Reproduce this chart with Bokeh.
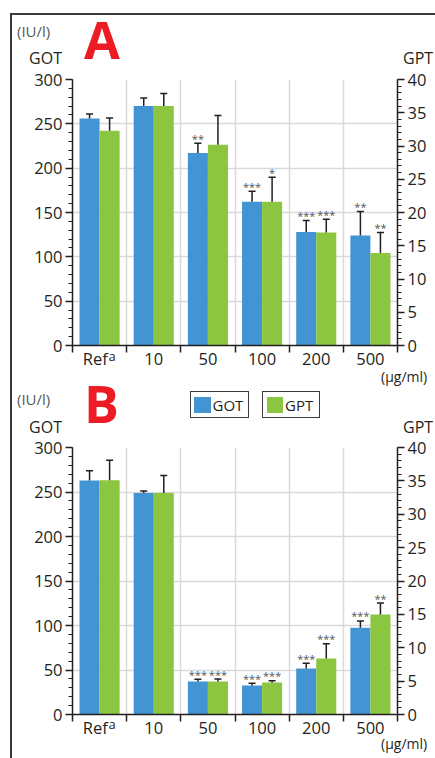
from bokeh.plotting import figure
from bokeh.models import (Range1d, LinearAxis, FixedTicker, ColumnDataSource, Grid,
                          CustomJSTickFormatter, Div)
from bokeh.layouts import column
from bokeh.core.properties import value
from bokeh.embed import file_html
from bokeh.resources import INLINE

# ---------------- data ----------------
categories = ["Ref", "10", "50", "100", "200", "500"]
category_marks = ["a", "", "", "", "", ""]          # superscript footnote marks
got_ticks = [0, 50, 100, 150, 200, 250, 300]
gpt_ticks = [0, 5, 10, 15, 20, 25, 30, 35, 40]
series_names = ["GOT", "GPT"]

A_got = [256, 270, 217, 162, 128, 124]
A_got_sd = [5, 9, 11, 12, 13, 27]
A_gpt = [32.3, 36.0, 30.2, 21.6, 17.0, 13.9]
A_gpt_sd = [1.9, 1.9, 4.4, 3.7, 2.0, 3.1]
A_got_sig = ["", "", "**", "***", "***", "**"]
A_gpt_sig = ["", "", "", "*", "***", "**"]

B_got = [263, 249, 37, 32.5, 51.6, 97.6]
B_got_sd = [11, 2, 2.6, 2.5, 6, 7.5]
B_gpt = [35.1, 33.2, 4.95, 4.8, 8.4, 15.0]
B_gpt_sd = [3.0, 2.6, 0.35, 0.25, 2.2, 1.7]
B_got_sig = ["", "", "***", "***", "***", "***"]
B_gpt_sig = ["", "", "***", "***", "***", "**"]

# ---------------- style ----------------
FONT = "Open Sans"
BLUE = "#4394d2"
GREEN = "#8cc540"
INK = "#231f20"
GRID = "#d9d9d9"
RED = "#ed1c24"
W = 435


def make_panel(got, got_sd, gpt, gpt_sd, got_sig, gpt_sig, height, top, bottom):
    p = figure(width=W, height=height, x_range=Range1d(0, 6), y_range=Range1d(0, 300),
               output_backend="svg", toolbar_location=None,
               x_axis_type=None, y_axis_type=None,
               min_border_left=72, min_border_right=38,
               min_border_top=top, min_border_bottom=bottom)
    p.extra_y_ranges = {"gpt": Range1d(0, 40)}
    p.outline_line_color = None
    p.background_fill_color = "white"
    p.border_fill_color = "white"

    p.add_layout(Grid(dimension=0, ticker=FixedTicker(ticks=[1, 2, 3, 4, 5]),
                      grid_line_color=GRID, grid_line_width=1.5))
    p.add_layout(Grid(dimension=1, ticker=FixedTicker(ticks=got_ticks[1:]),
                      grid_line_color=GRID, grid_line_width=1.5))

    n = len(categories)
    xb = [i + 0.5 - 0.185 for i in range(n)]
    xg = [i + 0.5 + 0.185 for i in range(n)]
    got_top = [v + s for v, s in zip(got, got_sd)]
    gpt_top = [v + s for v, s in zip(gpt, gpt_sd)]
    src_b = ColumnDataSource(dict(x=xb, v=got, t=got_top, sig=got_sig,
                                  x0=[x - 0.065 for x in xb], x1=[x + 0.065 for x in xb]))
    src_g = ColumnDataSource(dict(x=xg, v=gpt, t=gpt_top, sig=gpt_sig,
                                  x0=[x - 0.065 for x in xg], x1=[x + 0.065 for x in xg]))

    p.vbar(x="x", top="v", bottom=0, width=0.37, source=src_b,
           fill_color=BLUE, line_color=None)
    p.vbar(x="x", top="v", bottom=0, width=0.37, source=src_g,
           fill_color=GREEN, line_color=None, y_range_name="gpt")

    for src, rn in ((src_b, "default"), (src_g, "gpt")):
        p.segment(x0="x", y0="v", x1="x", y1="t", source=src, line_color=INK,
                  line_width=1.5, y_range_name=rn)
        p.segment(x0="x0", y0="t", x1="x1", y1="t", source=src, line_color=INK,
                  line_width=1.5, y_range_name=rn)
        p.text(x="x", y="t", text="sig", source=src, text_align="center",
               text_baseline="alphabetic", y_offset=-5, text_font=value(FONT),
               text_font_size="11px", text_color="#555555", y_range_name=rn)

    fmt = CustomJSTickFormatter(
        args=dict(labels=categories, marks=category_marks),
        code="const i = Math.floor(tick); return labels[i] + (marks[i] ? '\\u00a0\\u00a0' : '');")
    xax = LinearAxis(ticker=FixedTicker(ticks=[i + 0.5 for i in range(n)],
                                        minor_ticks=list(range(n + 1))),
                     formatter=fmt)
    xax.major_tick_out = 0
    xax.major_tick_in = 0
    xax.minor_tick_out = 7
    xax.minor_tick_in = 0
    xax.minor_tick_line_width = 1.5
    xax.minor_tick_line_color = INK
    xax.major_label_standoff = -6
    p.add_layout(xax, "below")

    yl = LinearAxis(ticker=FixedTicker(ticks=got_ticks,
                                       minor_ticks=list(range(0, 301, 10))))
    yr = LinearAxis(y_range_name="gpt",
                    ticker=FixedTicker(ticks=gpt_ticks, minor_ticks=list(range(0, 41, 1))))
    for ax in (yl, yr):
        ax.major_tick_out = 7
        ax.major_tick_in = 0
        ax.minor_tick_out = 4
        ax.minor_tick_in = 0
        ax.major_tick_line_width = 1.5
        ax.minor_tick_line_width = 1
        ax.minor_tick_line_color = INK
        ax.major_label_standoff = 3
    p.add_layout(yl, "left")
    p.add_layout(yr, "right")
    for ax in (xax, yl, yr):
        ax.axis_line_width = 1.5
        ax.axis_line_color = INK
        ax.major_tick_line_color = INK
        ax.major_label_text_font = FONT
        ax.major_label_text_font_size = "16.5px"
        ax.major_label_text_color = INK
    return p


p1 = make_panel(A_got, A_got_sd, A_gpt, A_gpt_sd, A_got_sig, A_gpt_sig,
                height=379, top=79, bottom=34)
p2 = make_panel(B_got, B_got_sd, B_gpt, B_gpt_sd, B_got_sig, B_gpt_sig,
                height=379, top=68, bottom=44)


# ---------------- page texts (overlay) ----------------
def txt(text, x, base, size, color=INK, align="left", weight="normal"):
    tx = {"left": "0", "center": "-50%", "right": "-100%"}[align]
    top = base - 0.888 * size
    return (f'<span style="position:absolute;left:{x}px;top:{top:.1f}px;'
            f'transform:translateX({tx});font-family:\'{FONT}\';font-size:{size}px;'
            f'line-height:{size}px;color:{color};font-weight:{weight};'
            f'white-space:nowrap;">{text}</span>')


def box(x, y, w, h, style):
    return (f'<div style="position:absolute;left:{x}px;top:{y}px;width:{w}px;'
            f'height:{h}px;box-sizing:border-box;{style}"></div>')


parts = []
parts.append(box(10, 0, 425, 14.5, "border-bottom:2px solid #3a3a3a;"))
parts.append(box(10, 12.5, 425, 2, "background:#3a3a3a;"))
parts.append(box(10, 12.5, 2, 746, "background:#3a3a3a;"))
# panel A
parts.append(txt("(IU/l)", 17, 37, 15, "#595959"))
parts.append(txt("A", 102, 59.3, 52, RED, "center", "bold"))
parts.append(txt("GOT", 62, 64, 16, INK, "right"))
parts.append(txt("GPT", 403, 64, 16))
parts.append(txt("(\u03bcg/ml)", 381, 382.5, 14))
parts.append(txt(category_marks[0], 108.5, 361, 13))
# panel B
parts.append(txt("(IU/l)", 17, 405, 15, "#595959"))
parts.append(txt("B", 101.5, 422.7, 52, RED, "center", "bold"))
parts.append(txt("GOT", 62, 433, 16, INK, "right"))
parts.append(txt("GPT", 403, 433, 16))
parts.append(txt("(\u03bcg/ml)", 381, 749, 14))
parts.append(txt(category_marks[0], 108.5, 729.5, 13))
# legend
for name, col, lx, w in ((series_names[0], BLUE, 189.5, 59), (series_names[1], GREEN, 262, 58)):
    parts.append(box(lx, 391, w, 26.5, "border:1.5px solid #3c3c3c;background:white;"))
    parts.append(box(lx + 4.5, 396.5, 16.5, 16, f"background:{col};"))
    parts.append(txt(name, lx + 23, 411.5, 15))

overlay = Div(text="".join(parts), width=435, height=758, margin=0,
              styles={"position": "absolute", "left": "0px", "top": "0px", "margin": "0px",
                      "padding": "0px", "z-index": "9999", "pointer-events": "none",
                      "overflow": "visible"})

layout = column(overlay, p1, p2)

open("out.html", "w").write(file_html(layout, INLINE))
